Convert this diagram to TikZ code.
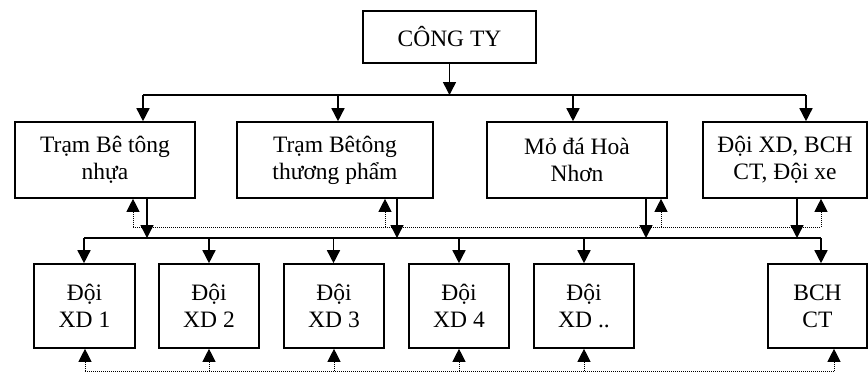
\documentclass[tikz,border=0pt]{standalone}
\usepackage{fontspec}
\setmainfont{Liberation Serif}
\usetikzlibrary{arrows.meta}
\begin{document}
\begin{tikzpicture}[x=1pt,y=-1pt,
  box/.style={draw, line width=1.6pt, inner sep=0pt, align=center,
    font=\fontsize{23.5}{27}\selectfont},
  link/.style={line width=1.5pt},
  arr/.style={link, -{Triangle[length=13pt,width=13pt]}},
  dotline/.style={line width=1pt, dash pattern=on 1pt off 1pt},
  darr/.style={dotline, -{Triangle[length=13pt,width=13pt]}}]
\useasboundingbox (0,0) rectangle (868,373);

% head office
\node[box, minimum width=173pt, minimum height=52pt] (c) at (449.5,37) {CÔNG TY};

% first level units
\node[box, minimum width=180pt, minimum height=76pt] (t1) at (105,160) {Trạm Bê tông\\nhựa};
\node[box, minimum width=196pt, minimum height=76pt] (t2) at (335,160) {Trạm Bêtông\\thương phẩm};
\node[box, minimum width=180pt, minimum height=76pt] (t3) at (577,160) {Mỏ đá Hoà\\Nhơn};
\node[box, minimum width=164pt, minimum height=76pt] (t4) at (785,160) {Đội XD, BCH\\CT, Đội xe};

% construction teams
\node[box, minimum width=101pt, minimum height=84pt] (d1) at (84.5,306) {Đội\\XD 1};
\node[box, minimum width=100pt, minimum height=84pt] (d2) at (209,306) {Đội\\XD 2};
\node[box, minimum width=100pt, minimum height=84pt] (d3) at (334,306) {Đội\\XD 3};
\node[box, minimum width=100pt, minimum height=84pt] (d4) at (459,306) {Đội\\XD 4};
\node[box, minimum width=100pt, minimum height=84pt] (d5) at (584,306) {Đội\\XD ..};
\node[box, minimum width=99pt, minimum height=84pt] (d6) at (817.5,306) {BCH\\CT};

% upper bus
\coordinate (k1) at (143,95);
\coordinate (k2) at (338,95);
\coordinate (k3) at (573,95);
\coordinate (k4) at (806,95);
\draw[link] (k1) -- (k4);
\draw[arr] (c.south) -- (c.south |- k1);
\foreach \i in {1,...,4} \draw[arr] (k\i) -- (k\i |- t\i.north);

% lower bus
\coordinate (m1) at (84,238);
\coordinate (m2) at (209,238);
\coordinate (m3) at (333.5,238);
\coordinate (m4) at (459,238);
\coordinate (m5) at (584,238);
\coordinate (m6) at (821,238);
\draw[link] (m1) -- (m6);
\foreach \i in {1,...,6} \draw[arr] (m\i) -- (m\i |- d\i.north);

% first level units feeding the lower bus
\coordinate (s1) at (147,238);
\coordinate (s2) at (397,238);
\coordinate (s3) at (646,238);
\coordinate (s4) at (797,238);
\foreach \i in {1,...,4} \draw[arr] (s\i |- t\i.south) -- (s\i);

% feedback to first level units
\coordinate (u1) at (133,227);
\coordinate (u2) at (385,227);
\coordinate (u3) at (661,227);
\coordinate (u4) at (821,227);
\draw[dotline] (u1) -- (u4);
\foreach \i in {1,...,4} \draw[darr] (u\i) -- (u\i |- t\i.south);

% feedback among construction teams
\coordinate (w1) at (85,371);
\coordinate (w2) at (209,371);
\coordinate (w3) at (334,371);
\coordinate (w4) at (459,371);
\coordinate (w5) at (584,371);
\coordinate (w6) at (834,371);
\draw[dotline] (w1) -- (w6);
\foreach \i in {1,...,6} \draw[darr] (w\i) -- (w\i |- d\i.south);
\end{tikzpicture}
\end{document}
